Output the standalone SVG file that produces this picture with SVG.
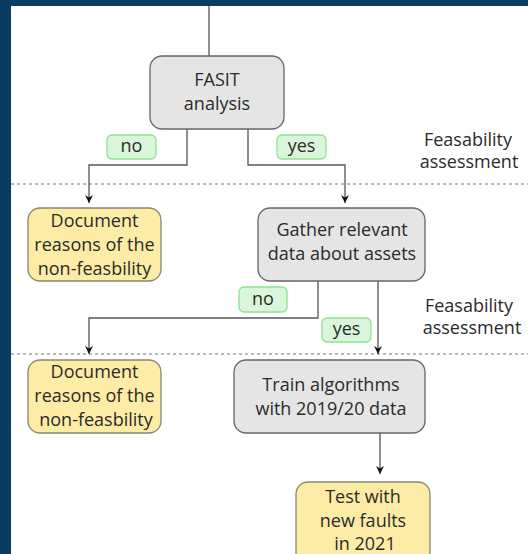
<svg xmlns="http://www.w3.org/2000/svg" width="528" height="554" viewBox="0 0 528 554">
<style>
.bg{fill:#0b3c61}
.gray{fill:#e5e5e5;stroke:#666;stroke-width:1.3}
.yel{fill:#fdeca6;stroke:#8c8670;stroke-width:1.3}
.lbl{fill:#daf6da;stroke:#8fe28f;stroke-width:1.3}
.edge{fill:none;stroke:#555;stroke-width:1.3}
.dash{stroke:#777;stroke-width:1;stroke-dasharray:3 3}
text{font-family:"Open Sans","Noto Sans",sans-serif;font-size:18px;fill:#2b2b2b;text-anchor:middle}
</style>
<defs>
<marker id="arr" viewBox="0 0 10 10" refX="10" refY="5" markerWidth="8" markerHeight="8" markerUnits="userSpaceOnUse" orient="auto">
<path d="M0,0 L10,5 L0,10 L3,5 Z" fill="#111"/>
</marker>
</defs>
<rect x="0" y="0" width="528" height="554" fill="#fff"/>
<rect class="bg" x="0" y="0" width="528" height="6"/>
<rect class="bg" x="0" y="0" width="11" height="554"/>

<g id="separators">
<line class="dash" x1="11" y1="184" x2="528" y2="184"/>
<line class="dash" x1="11" y1="354" x2="528" y2="354"/>
</g>

<g id="connectors">
<path class="edge" d="M209,6 V56"/>
<path class="edge" d="M187,129 V165 H89 V203" marker-end="url(#arr)"/>
<path class="edge" d="M248,129 V165 H345 V203" marker-end="url(#arr)"/>
<path class="edge" d="M318,281 V318 H89 V354" marker-end="url(#arr)"/>
<path class="edge" d="M378,281 V354" marker-end="url(#arr)"/>
<path class="edge" d="M380,433 V474" marker-end="url(#arr)"/>
</g>

<g id="fasit">
<rect class="gray" x="150" y="56" width="134" height="73" rx="12"/>
<text x="217" y="86">FASIT</text>
<text x="217" y="110">analysis</text>
</g>
<g id="label-no-1">
<rect class="lbl" x="107" y="135" width="49" height="24" rx="5"/>
<text x="131.5" y="152">no</text>
</g>
<g id="label-yes-1">
<rect class="lbl" x="277" y="135" width="49" height="24" rx="5"/>
<text x="301.5" y="152">yes</text>
</g>
<g id="feas-1">
<text x="468" y="146">Feasability</text>
<text x="469" y="168">assessment</text>
</g>

<g id="doc1">
<rect class="yel" x="28" y="208" width="133" height="73" rx="12"/>
<text x="94.5" y="227">Document</text>
<text x="94.5" y="251">reasons of the</text>
<text x="94.5" y="275">non-feasbility</text>
</g>
<g id="gather">
<rect class="gray" x="258" y="208" width="167" height="73" rx="12"/>
<text x="342" y="236">Gather relevant</text>
<text x="342" y="260">data about assets</text>
</g>
<g id="label-no-2">
<rect class="lbl" x="239" y="287" width="48" height="25" rx="5"/>
<text x="263" y="305">no</text>
</g>
<g id="label-yes-2">
<rect class="lbl" x="322" y="318" width="49" height="24" rx="5"/>
<text x="346.5" y="335">yes</text>
</g>
<g id="feas-2">
<text x="469" y="312">Feasability</text>
<text x="472" y="334">assessment</text>
</g>

<g id="doc2">
<rect class="yel" x="28" y="360" width="133" height="73" rx="12"/>
<text x="94.5" y="378">Document</text>
<text x="94.5" y="402">reasons of the</text>
<text x="96" y="426">non-feasbility</text>
</g>
<g id="train">
<rect class="gray" x="234" y="360" width="191" height="73" rx="12"/>
<text x="331" y="391">Train algorithms</text>
<text x="331" y="415">with 2019/20 data</text>
</g>
<g id="test">
<rect class="yel" x="296" y="482" width="134" height="90" rx="12"/>
<text x="363" y="503">Test with</text>
<text x="363" y="527">new faults</text>
<text x="365" y="550">in 2021</text>
</g>
</svg>
